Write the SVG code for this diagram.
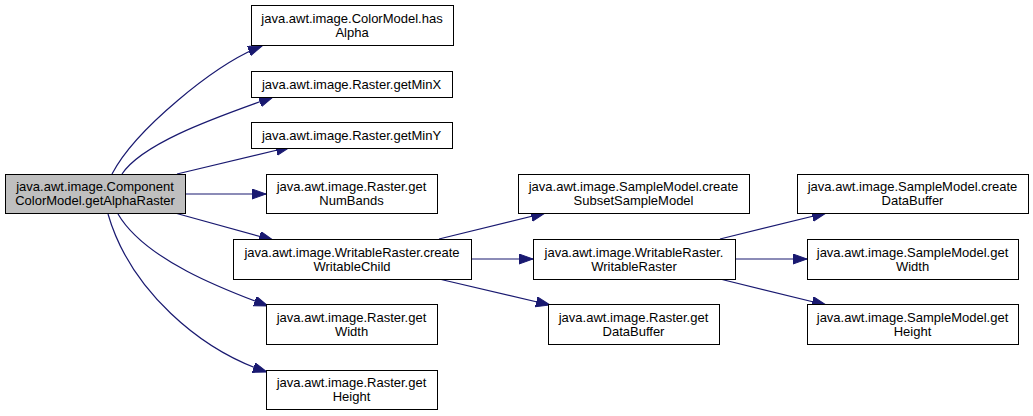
<svg xmlns="http://www.w3.org/2000/svg" width="1033" height="416" viewBox="0 0 1033 416">
<defs>
<style>
.n rect{fill:#fff;stroke:#000;stroke-width:1}
.n.root rect{fill:#bfbfbf}
.n text{font-family:"Liberation Sans",Arial,sans-serif;font-size:13px;fill:#000;text-anchor:middle}
.e path{fill:none;stroke:#191970;stroke-width:1.2}
</style>
<marker id="ah" markerUnits="userSpaceOnUse" markerWidth="15" markerHeight="11" refX="14" refY="5" orient="auto">
<path d="M0,0 L14,5 L0,10 z" fill="#191970" stroke="#191970" stroke-width="1"/>
</marker>
</defs>
<rect width="1033" height="416" fill="#fff"/>
<g id="edges" class="e">
<path d="M112,174 C135,130 215,64 262,46" marker-end="url(#ah)"/>
<path d="M122,174 C145,140 230,113 273,97" marker-end="url(#ah)"/>
<path d="M177,174 L290,147" marker-end="url(#ah)"/>
<path d="M185,194 L266,194" marker-end="url(#ah)"/>
<path d="M175,213 L273,240" marker-end="url(#ah)"/>
<path d="M118,214 C145,260 225,290 268,306" marker-end="url(#ah)"/>
<path d="M108,214 C130,290 200,350 267,372" marker-end="url(#ah)"/>
<path d="M439,239 L545,213" marker-end="url(#ah)"/>
<path d="M471,259 L533,259" marker-end="url(#ah)"/>
<path d="M439,279 L550,305" marker-end="url(#ah)"/>
<path d="M720,239 L826,213" marker-end="url(#ah)"/>
<path d="M735,259 L807,259" marker-end="url(#ah)"/>
<path d="M720,279 L826,305" marker-end="url(#ah)"/>
</g>
<g id="n0" class="n root"><rect x="5.5" y="174.5" width="180" height="39"/><text x="95" y="191">java.awt.image.Component</text><text x="95" y="205">ColorModel.getAlphaRaster</text></g>
<g id="n1" class="n"><rect x="251.5" y="5.5" width="202" height="40"/><text x="352" y="22.5">java.awt.image.ColorModel.has</text><text x="352" y="36.5">Alpha</text></g>
<g id="n2" class="n"><rect x="251.5" y="71.5" width="201" height="26"/><text x="351.5" y="88.5">java.awt.image.Raster.getMinX</text></g>
<g id="n3" class="n"><rect x="251.5" y="122.5" width="201" height="26"/><text x="351.5" y="139.5">java.awt.image.Raster.getMinY</text></g>
<g id="n4" class="n"><rect x="266.5" y="174.5" width="171" height="39"/><text x="351.5" y="191">java.awt.image.Raster.get</text><text x="351.5" y="205">NumBands</text></g>
<g id="n5" class="n"><rect x="233.5" y="239.5" width="238" height="40"/><text x="352" y="256.5">java.awt.image.WritableRaster.create</text><text x="352" y="270.5">WritableChild</text></g>
<g id="n6" class="n"><rect x="266.5" y="304.5" width="171" height="40"/><text x="351.5" y="321.5">java.awt.image.Raster.get</text><text x="351.5" y="335.5">Width</text></g>
<g id="n7" class="n"><rect x="266.5" y="370.5" width="171" height="39"/><text x="351.5" y="387">java.awt.image.Raster.get</text><text x="351.5" y="401">Height</text></g>
<g id="n8" class="n"><rect x="518.5" y="174.5" width="231" height="39"/><text x="633.5" y="191">java.awt.image.SampleModel.create</text><text x="633.5" y="205">SubsetSampleModel</text></g>
<g id="n9" class="n"><rect x="533.5" y="239.5" width="202" height="40"/><text x="634" y="256.5">java.awt.image.WritableRaster.</text><text x="634" y="270.5">WritableRaster</text></g>
<g id="n10" class="n"><rect x="548.5" y="304.5" width="171" height="40"/><text x="633.5" y="321.5">java.awt.image.Raster.get</text><text x="633.5" y="335.5">DataBuffer</text></g>
<g id="n11" class="n"><rect x="797.5" y="174.5" width="231" height="39"/><text x="912.5" y="191">java.awt.image.SampleModel.create</text><text x="912.5" y="205">DataBuffer</text></g>
<g id="n12" class="n"><rect x="807.5" y="239.5" width="211" height="40"/><text x="912.5" y="256.5">java.awt.image.SampleModel.get</text><text x="912.5" y="270.5">Width</text></g>
<g id="n13" class="n"><rect x="807.5" y="304.5" width="211" height="40"/><text x="912.5" y="321.5">java.awt.image.SampleModel.get</text><text x="912.5" y="335.5">Height</text></g>
</svg>
